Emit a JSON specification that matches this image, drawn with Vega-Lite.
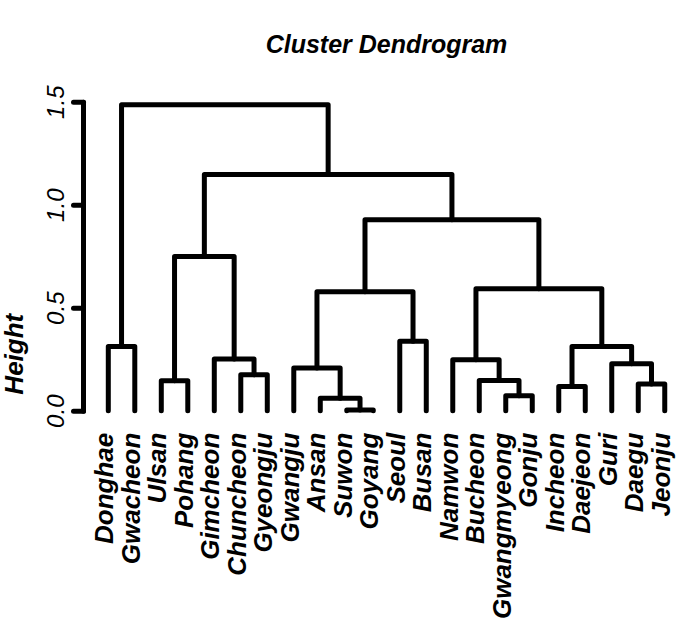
{
  "$schema": "https://vega.github.io/schema/vega-lite/v6.json",
  "width": 595,
  "height": 309,
  "autosize": {"type": "none"},
  "padding": {"left": 83, "top": 101.7, "right": 7, "bottom": 220.3},
  "background": "white",
  "config": {"view": {"stroke": null}, "font": "Liberation Sans"},
  "title": {
    "text": "Cluster Dendrogram",
    "anchor": "middle",
    "frame": "group",
    "font": "Liberation Sans",
    "fontSize": 25,
    "fontWeight": "bold",
    "fontStyle": "italic",
    "color": "black",
    "baseline": "alphabetic",
    "offset": 0,
    "dx": 6,
    "dy": -7
  },
  "datasets": {
    "nodes": [
      {"n": "A", "o": 1, "x": 1, "h": 0}, {"n": "A", "o": 2, "x": 1, "h": 0.312}, {"n": "A", "o": 3, "x": 2, "h": 0.312}, {"n": "A", "o": 4, "x": 2, "h": 0},
      {"n": "B", "o": 1, "x": 3, "h": 0}, {"n": "B", "o": 2, "x": 3, "h": 0.145}, {"n": "B", "o": 3, "x": 4, "h": 0.145}, {"n": "B", "o": 4, "x": 4, "h": 0},
      {"n": "C", "o": 1, "x": 6, "h": 0}, {"n": "C", "o": 2, "x": 6, "h": 0.174}, {"n": "C", "o": 3, "x": 7, "h": 0.174}, {"n": "C", "o": 4, "x": 7, "h": 0},
      {"n": "D", "o": 1, "x": 5, "h": 0}, {"n": "D", "o": 2, "x": 5, "h": 0.251}, {"n": "D", "o": 3, "x": 6.5, "h": 0.251}, {"n": "D", "o": 4, "x": 6.5, "h": 0.174},
      {"n": "E", "o": 1, "x": 3.5, "h": 0.145}, {"n": "E", "o": 2, "x": 3.5, "h": 0.748}, {"n": "E", "o": 3, "x": 5.75, "h": 0.748}, {"n": "E", "o": 4, "x": 5.75, "h": 0.251},
      {"n": "F", "o": 1, "x": 10, "h": 0}, {"n": "F", "o": 2, "x": 10, "h": 0.003}, {"n": "F", "o": 3, "x": 11, "h": 0.003}, {"n": "F", "o": 4, "x": 11, "h": 0},
      {"n": "G", "o": 1, "x": 9, "h": 0}, {"n": "G", "o": 2, "x": 9, "h": 0.06}, {"n": "G", "o": 3, "x": 10.5, "h": 0.06}, {"n": "G", "o": 4, "x": 10.5, "h": 0.003},
      {"n": "H", "o": 1, "x": 8, "h": 0}, {"n": "H", "o": 2, "x": 8, "h": 0.207}, {"n": "H", "o": 3, "x": 9.75, "h": 0.207}, {"n": "H", "o": 4, "x": 9.75, "h": 0.06},
      {"n": "I", "o": 1, "x": 12, "h": 0}, {"n": "I", "o": 2, "x": 12, "h": 0.337}, {"n": "I", "o": 3, "x": 13, "h": 0.337}, {"n": "I", "o": 4, "x": 13, "h": 0},
      {"n": "J", "o": 1, "x": 8.875, "h": 0.207}, {"n": "J", "o": 2, "x": 8.875, "h": 0.578}, {"n": "J", "o": 3, "x": 12.5, "h": 0.578}, {"n": "J", "o": 4, "x": 12.5, "h": 0.337},
      {"n": "K", "o": 1, "x": 16, "h": 0}, {"n": "K", "o": 2, "x": 16, "h": 0.073}, {"n": "K", "o": 3, "x": 17, "h": 0.073}, {"n": "K", "o": 4, "x": 17, "h": 0},
      {"n": "L", "o": 1, "x": 15, "h": 0}, {"n": "L", "o": 2, "x": 15, "h": 0.146}, {"n": "L", "o": 3, "x": 16.5, "h": 0.146}, {"n": "L", "o": 4, "x": 16.5, "h": 0.073},
      {"n": "M", "o": 1, "x": 14, "h": 0}, {"n": "M", "o": 2, "x": 14, "h": 0.247}, {"n": "M", "o": 3, "x": 15.75, "h": 0.247}, {"n": "M", "o": 4, "x": 15.75, "h": 0.146},
      {"n": "N", "o": 1, "x": 18, "h": 0}, {"n": "N", "o": 2, "x": 18, "h": 0.117}, {"n": "N", "o": 3, "x": 19, "h": 0.117}, {"n": "N", "o": 4, "x": 19, "h": 0},
      {"n": "O", "o": 1, "x": 21, "h": 0}, {"n": "O", "o": 2, "x": 21, "h": 0.13}, {"n": "O", "o": 3, "x": 22, "h": 0.13}, {"n": "O", "o": 4, "x": 22, "h": 0},
      {"n": "P", "o": 1, "x": 20, "h": 0}, {"n": "P", "o": 2, "x": 20, "h": 0.228}, {"n": "P", "o": 3, "x": 21.5, "h": 0.228}, {"n": "P", "o": 4, "x": 21.5, "h": 0.13},
      {"n": "Q", "o": 1, "x": 18.5, "h": 0.117}, {"n": "Q", "o": 2, "x": 18.5, "h": 0.312}, {"n": "Q", "o": 3, "x": 20.75, "h": 0.312}, {"n": "Q", "o": 4, "x": 20.75, "h": 0.228},
      {"n": "R", "o": 1, "x": 14.875, "h": 0.247}, {"n": "R", "o": 2, "x": 14.875, "h": 0.592}, {"n": "R", "o": 3, "x": 19.625, "h": 0.592}, {"n": "R", "o": 4, "x": 19.625, "h": 0.312},
      {"n": "S", "o": 1, "x": 10.6875, "h": 0.578}, {"n": "S", "o": 2, "x": 10.6875, "h": 0.927}, {"n": "S", "o": 3, "x": 17.25, "h": 0.927}, {"n": "S", "o": 4, "x": 17.25, "h": 0.592},
      {"n": "T", "o": 1, "x": 4.625, "h": 0.748}, {"n": "T", "o": 2, "x": 4.625, "h": 1.146}, {"n": "T", "o": 3, "x": 13.96875, "h": 1.146}, {"n": "T", "o": 4, "x": 13.96875, "h": 0.927},
      {"n": "U", "o": 1, "x": 1.5, "h": 0.312}, {"n": "U", "o": 2, "x": 1.5, "h": 1.485}, {"n": "U", "o": 3, "x": 9.296875, "h": 1.485}, {"n": "U", "o": 4, "x": 9.296875, "h": 1.146}
    ],
    "leaves": [
      {"name": "Donghae", "x": 1}, {"name": "Gwacheon", "x": 2}, {"name": "Ulsan", "x": 3}, {"name": "Pohang", "x": 4},
      {"name": "Gimcheon", "x": 5}, {"name": "Chuncheon", "x": 6}, {"name": "Gyeongju", "x": 7}, {"name": "Gwangju", "x": 8},
      {"name": "Ansan", "x": 9}, {"name": "Suwon", "x": 10}, {"name": "Goyang", "x": 11}, {"name": "Seoul", "x": 12},
      {"name": "Busan", "x": 13}, {"name": "Namwon", "x": 14}, {"name": "Bucheon", "x": 15}, {"name": "Gwangmyeong", "x": 16},
      {"name": "Gonju", "x": 17}, {"name": "Incheon", "x": 18}, {"name": "Daejeon", "x": 19}, {"name": "Guri", "x": 20},
      {"name": "Daegu", "x": 21}, {"name": "Jeonju", "x": 22}
    ]
  },
  "layer": [
    {
      "data": {"name": "nodes"},
      "mark": {"type": "line", "color": "black", "strokeWidth": 5, "strokeCap": "round", "strokeJoin": "round", "clip": false},
      "encoding": {
        "x": {"field": "x", "type": "quantitative", "scale": {"domain": [0.0453, 22.5], "nice": false, "zero": false}, "axis": null},
        "y": {
          "field": "h", "type": "quantitative",
          "scale": {"domain": [0, 1.5], "nice": false, "zero": false},
          "axis": {
            "values": [0, 0.5, 1, 1.5],
            "format": ".1f",
            "grid": false,
            "domainColor": "black", "domainWidth": 5, "domainCap": "round",
            "tickColor": "black", "tickWidth": 5, "tickSize": 10, "tickCap": "round",
            "labelColor": "black", "labelFont": "Liberation Sans", "labelFontSize": 24, "labelFontStyle": "italic",
            "labelAngle": 270, "labelAlign": "center", "labelBaseline": "alphabetic", "labelPadding": 10,
            "labelOverlap": false, "labelFlush": false,
            "title": "Height",
            "titleColor": "black", "titleFont": "Liberation Sans", "titleFontSize": 26, "titleFontWeight": "bold", "titleFontStyle": "italic",
            "titleAngle": 270, "titleAlign": "center", "titleBaseline": "alphabetic", "titleX": -61, "titleY": 252
          }
        },
        "detail": {"field": "n"},
        "order": {"field": "o", "type": "quantitative"}
      }
    },
    {
      "data": {"name": "leaves"},
      "mark": {"type": "text", "angle": 270, "align": "right", "baseline": "middle", "dx": -22, "dy": -3, "font": "Liberation Sans", "fontSize": 26, "fontWeight": "bold", "fontStyle": "italic", "color": "black"},
      "encoding": {
        "x": {"field": "x", "type": "quantitative"},
        "y": {"datum": 0},
        "text": {"field": "name"}
      }
    }
  ]
}
